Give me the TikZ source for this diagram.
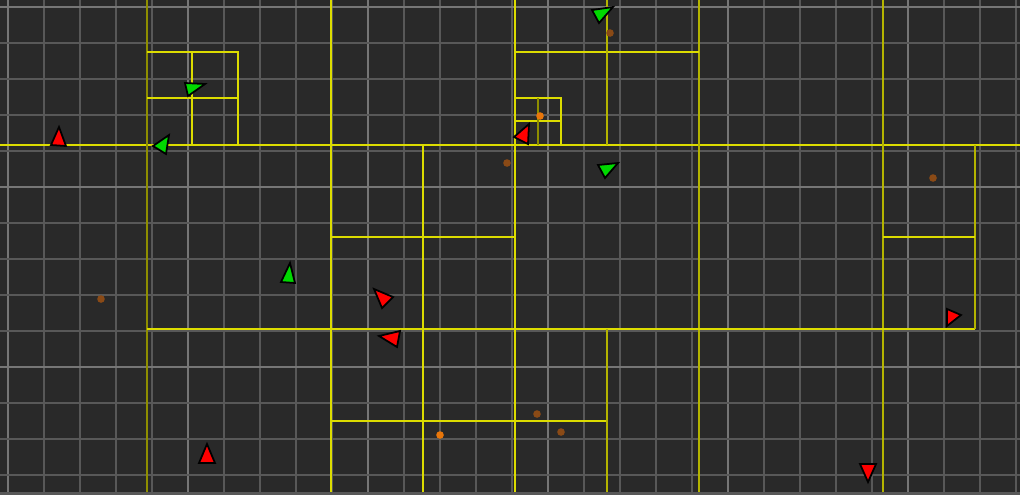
\documentclass[tikz,border=0pt]{standalone}
\usepackage{tikz}
\usetikzlibrary{calc}
\definecolor{canvas}{HTML}{292929}
\definecolor{gridMinor}{HTML}{585858}
\definecolor{gridMajor}{HTML}{767676}
\definecolor{quadBright}{HTML}{DCDC00}
\definecolor{quadMid}{HTML}{B4B400}
\definecolor{quadDim}{HTML}{8E8E00}
\definecolor{agentRed}{HTML}{FF0000}
\definecolor{agentGreen}{HTML}{00D800}
\definecolor{foodDim}{HTML}{8A4A16}
\definecolor{foodLit}{HTML}{E8760A}

\begin{document}
\begin{tikzpicture}[x=0.02cm,y=-0.02cm,
    minorline/.style={draw=gridMinor,line width=0.65pt},
    majorline/.style={draw=gridMajor,line width=0.8pt},
    quad/.style={draw=quadBright,line width=0.7pt},
    quadmid/.style={draw=quadMid,line width=0.7pt},
    quaddim/.style={draw=quadDim,line width=0.7pt},
    redagent/.style={fill=agentRed,draw=black,line width=1pt,line join=miter},
    greenagent/.style={fill=agentGreen,draw=black,line width=1pt,line join=miter},
    food/.style={fill=foodDim},
    foodlit/.style={fill=foodLit}]
    % canvas
    \fill[canvas] (0,0) rectangle (1020,495);
    \useasboundingbox (0,0) rectangle (1020,495);
    % background grid, every fifth line brighter
    \foreach \i in {0,...,28} {
      \pgfmathtruncatemacro{\m}{mod(\i,5)}
      \ifnum\m=0 \path[majorline] ({8+36*\i},0) -- ({8+36*\i},492);
      \else \path[minorline] ({8+36*\i},0) -- ({8+36*\i},492); \fi
    }
    \foreach \j in {0,...,13} {
      \pgfmathtruncatemacro{\m}{mod(\j,5)}
      \ifnum\m=0 \path[majorline] (0,{7+36*\j}) -- (1020,{7+36*\j});
      \else \path[minorline] (0,{7+36*\j}) -- (1020,{7+36*\j}); \fi
    }
    \fill[gridMinor] (0,492) rectangle (1020,495);

    % quadtree cells
    \path[quad] (0,145) -- (1020,145);
    \path[quaddim] (147,0) -- (147,492);
    \path[quad] (331,0) -- (331,492);
    \path[quad] (515,0) -- (515,492);
    \path[quadmid] (699,0) -- (699,492);
    \path[quadmid] (883,0) -- (883,492);
    % top left
    \path[quad] (147,52) -- (238,52) -- (238,145);
    \path[quad] (147,98) -- (238,98);
    \path[quad] (192,52) -- (192,145);
    % top middle
    \path[quad] (515,52) -- (699,52);
    \path[quadmid] (607,0) -- (607,145);
    \path[quad] (515,98) -- (561,98) -- (561,145);
    \path[quad] (515,121) -- (561,121);
    \path[quaddim] (538,98) -- (538,145);
    % middle band
    \path[quad] (423,145) -- (423,492);
    \path[quad] (331,237) -- (515,237);
    \path[quad] (147,329) -- (975,329);
    \path[quadmid] (975,145) -- (975,329);
    \path[quad] (883,237) -- (975,237);
    % bottom
    \path[quad] (331,421) -- (607,421);
    \path[quadmid] (607,329) -- (607,492);

    % food
    \foreach \fx/\fy in {610/33,507/163,101/299,933/178,537/414,561/432}
      \fill[food] (\fx,\fy) circle (3.8);
    \foreach \fx/\fy in {540/116,440/435}
      \fill[foodlit] (\fx,\fy) circle (3.8);

    % red agents
    \path[redagent] (59,127) -- (51,145) -- (66,146) -- cycle;
    \path[redagent] (514,137) -- (529,124) -- (528,144) -- cycle;
    \path[redagent] (374,289) -- (393,297) -- (382,308) -- cycle;
    \path[redagent] (379,336) -- (400,331) -- (397,347) -- cycle;
    \path[redagent] (947,309) -- (961,315) -- (947,326) -- cycle;
    \path[redagent] (207,444) -- (199,463) -- (215,463) -- cycle;
    \path[redagent] (860,464) -- (876,464) -- (868,482) -- cycle;
    % green agents
    \path[greenagent] (185,83) -- (205,84) -- (188,96) -- cycle;
    \path[greenagent] (153,146) -- (169,135) -- (166,154) -- cycle;
    \path[greenagent] (592,10) -- (613,7) -- (599,23) -- cycle;
    \path[greenagent] (598,165) -- (618,163) -- (605,178) -- cycle;
    \path[greenagent] (290,263) -- (281,282) -- (295,283) -- cycle;
\end{tikzpicture}
\end{document}
